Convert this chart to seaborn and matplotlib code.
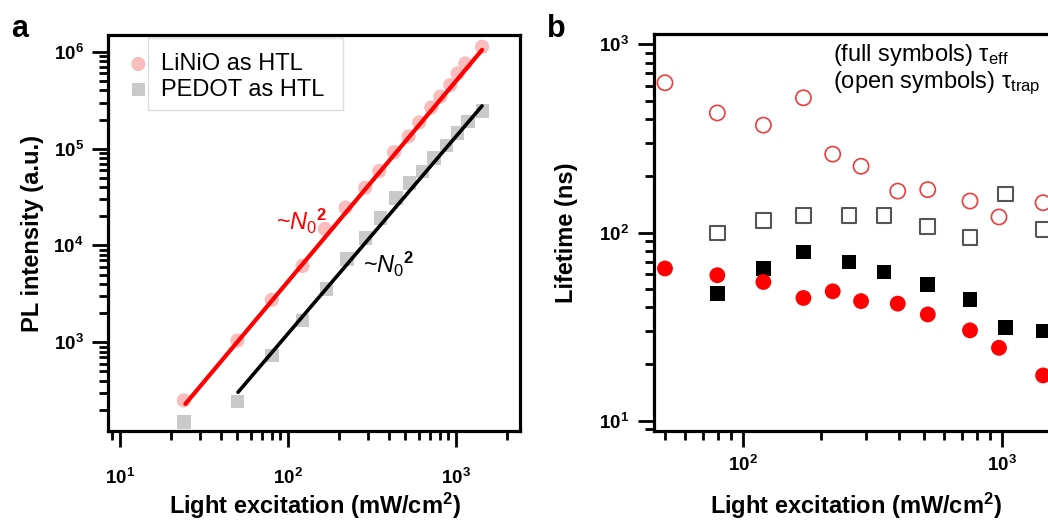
import numpy as np
import pandas as pd
import matplotlib
matplotlib.use("Agg")
import matplotlib.pyplot as plt
import matplotlib.ticker as ticker
from matplotlib.patches import Rectangle
import seaborn as sns

# ---------------- data ----------------
# panel a : PL intensity vs light excitation
exc_linio = [24, 50, 80, 122, 166, 220, 288, 349, 428, 522, 604, 713, 806, 925, 1023, 1137, 1430]
pl_linio = [250, 1040, 2740, 6150, 14800, 24700, 39600, 58700, 92000, 134000, 187000,
            267000, 345000, 455000, 600000, 760000, 1130000]
exc_pedot = [24, 50, 80, 122, 170, 224, 290, 355, 440, 530, 630, 740, 880, 1020, 1180, 1440]
pl_pedot = [150, 245, 730, 1680, 3560, 7200, 12000, 19300, 31000, 44000, 58000,
            80000, 108000, 145000, 190000, 245000]
# ~N0^2 guide lines (end points)
fit_linio_x = [24.5, 1429]
fit_linio_y = [230, 1050000]
fit_pedot_x = [50.4, 1429]
fit_pedot_y = [304, 277000]

# panel b : lifetimes vs light excitation
exc_b_linio = [50.1, 79.8, 120.2, 171.6, 222.7, 286.5, 397, 518.6, 755, 977, 1446]
tau_trap_linio = [625, 432, 372, 520, 261, 225, 166, 169, 147, 121, 144]
tau_eff_linio = [64.4, 59.3, 54.6, 44.9, 48.7, 43.2, 41.9, 36.7, 30.2, 24.4, 17.4]
exc_b_pedot = [79.8, 120.2, 171.6, 257.5, 351.6, 518.6, 755, 1036, 1446]
tau_trap_pedot = [99.5, 116, 123, 123, 123, 108, 94, 160, 104]
tau_eff_pedot = [47.4, 64.4, 78.9, 69.9, 61.7, 53.1, 44.1, 31.3, 29.9]

legend_labels = ["LiNiO as HTL", "PEDOT as HTL"]

# ---------------- style ----------------
sns.set_style("ticks")
plt.rcParams["font.family"] = ["Liberation Sans", "DejaVu Sans"]
plt.rcParams["mathtext.fontset"] = "custom"
plt.rcParams["mathtext.rm"] = "Liberation Sans"
plt.rcParams["mathtext.it"] = "Liberation Sans:italic"
plt.rcParams["mathtext.bf"] = "Liberation Sans:bold"
for k in ("text.color", "axes.labelcolor", "xtick.color", "ytick.color", "axes.edgecolor"):
    plt.rcParams[k] = "black"

fig = plt.figure(figsize=(10.48, 5.2), dpi=100)
W, H = 1048.0, 520.0
ax1 = fig.add_axes([108 / W, 1 - 431 / H, (520 - 108) / W, (431 - 35) / H])
ax2 = fig.add_axes([653.5 / W, 1 - 430.7 / H, 504 / W, (430.7 - 34) / H])

def dec_fmt(v, pos):
    return r"$\mathbf{10^{%d}}$" % int(round(np.log10(v)))

for ax in (ax1, ax2):
    ax.set_xscale("log")
    ax.set_yscale("log")
    for s in ax.spines.values():
        s.set_linewidth(2.3)
        s.set_color("black")
    for axis in (ax.xaxis, ax.yaxis):
        axis.set_major_locator(ticker.LogLocator(base=10, numticks=20))
        axis.set_minor_locator(ticker.LogLocator(base=10, subs=np.arange(2, 10), numticks=20))
        axis.set_major_formatter(ticker.FuncFormatter(dec_fmt))
        axis.set_minor_formatter(ticker.NullFormatter())
    ax.tick_params(which="major", direction="out", length=11.5, width=2, labelsize=13.5,
                   colors="black", top=False, right=False)
    ax.tick_params(which="minor", direction="out", length=6.5, width=2, colors="black",
                   top=False, right=False)

# ---------------- panel a ----------------
df_l = pd.DataFrame({"x": exc_linio, "y": pl_linio})
df_p = pd.DataFrame({"x": exc_pedot, "y": pl_pedot})
sns.scatterplot(data=df_l, x="x", y="y", ax=ax1, marker="o", s=105, color="#FABDBD",
                edgecolor="none", label=legend_labels[0], zorder=2)
sns.scatterplot(data=df_p, x="x", y="y", ax=ax1, marker="s", s=95, color="#C9C9C9",
                edgecolor="none", label=legend_labels[1], zorder=2)
sns.lineplot(x=fit_linio_x, y=fit_linio_y, ax=ax1, color="#FF0000", lw=3, zorder=3)
sns.lineplot(x=fit_pedot_x, y=fit_pedot_y, ax=ax1, color="black", lw=2.6, zorder=3)

ax1.set_xlim(8.48, 2404)
ax1.set_ylim(120.8, 1.497e6)
ax1.tick_params(axis="x", which="major", pad=15)
ax1.tick_params(axis="y", which="major", pad=6)

ax1.set_xlabel(r"Light excitation (mW/cm$^{\mathbf{2}}$)", fontsize=17, fontweight="bold")
ax1.set_ylabel("PL intensity (a.u.)", fontsize=17, fontweight="bold")
ax1.xaxis.set_label_coords(0.502, -0.152)
ax1.yaxis.set_label_coords(-0.155, 0.5)

ax1.text(0.408, 0.508, r"~$\mathit{N}_{\mathrm{0}}{}^{\mathbf{2}}$", transform=ax1.transAxes,
         color="#FF0000", fontsize=17, va="baseline", ha="left")
ax1.text(0.619, 0.399, r"~$\mathit{N}_{\mathrm{0}}{}^{\mathbf{2}}$", transform=ax1.transAxes,
         color="black", fontsize=17, va="baseline", ha="left")

leg = ax1.legend(loc="upper left", bbox_to_anchor=(0.045, 0.96), frameon=False, fontsize=17,
                 handlelength=0.8, handletextpad=0.55, labelspacing=0.15, borderpad=0.1,
                 borderaxespad=0)
ax1.add_patch(Rectangle((0.097, 0.811), 0.473, 0.181, transform=ax1.transAxes, fill=False,
                        edgecolor="#DDDDDD", lw=1, zorder=1))

# ---------------- panel b ----------------
sns.scatterplot(x=exc_b_linio, y=tau_trap_linio, ax=ax2, marker="o", s=120,
                facecolor="none", edgecolor="#EE3B3B", linewidth=1.2, zorder=3)
sns.scatterplot(x=exc_b_pedot, y=tau_trap_pedot, ax=ax2, marker="s", s=110,
                facecolor="none", edgecolor="#555555", linewidth=1.5, zorder=3)
sns.scatterplot(x=exc_b_pedot, y=tau_eff_pedot, ax=ax2, marker="s", s=110,
                color="black", edgecolor="none", zorder=3)
sns.scatterplot(x=exc_b_linio, y=tau_eff_linio, ax=ax2, marker="o", s=130,
                color="#FF0000", edgecolor="none", zorder=3)

ax2.set_xlim(45.24, 4000)
ax2.set_ylim(8.85, 1135)
ax2.tick_params(axis="x", which="major", pad=6)
ax2.tick_params(axis="y", which="major", pad=6)
ax2.set_xlabel(r"Light excitation (mW/cm$^{\mathbf{2}}$)", fontsize=17, fontweight="bold")
ax2.set_ylabel("Lifetime (ns)", fontsize=17, fontweight="bold")
ax2.xaxis.set_label_coords(0.402, -0.152)
ax2.yaxis.set_label_coords(-0.15, 0.5)
if ax2.get_legend() is not None:
    ax2.get_legend().remove()

fig.text(833 / W, 1 - 60.7 / H, r"(full symbols) τ$_{\mathrm{eff}}$", fontsize=17, va="baseline")
fig.text(833 / W, 1 - 88.5 / H, r"(open symbols) τ$_{\mathrm{trap}}$", fontsize=17, va="baseline")

fig.text(11 / W, 1 - 37 / H, "a", fontsize=22, fontweight="bold", va="baseline")
fig.text(547 / W, 1 - 37 / H, "b", fontsize=22, fontweight="bold", va="baseline")

fig.savefig("out.png", dpi=100)
